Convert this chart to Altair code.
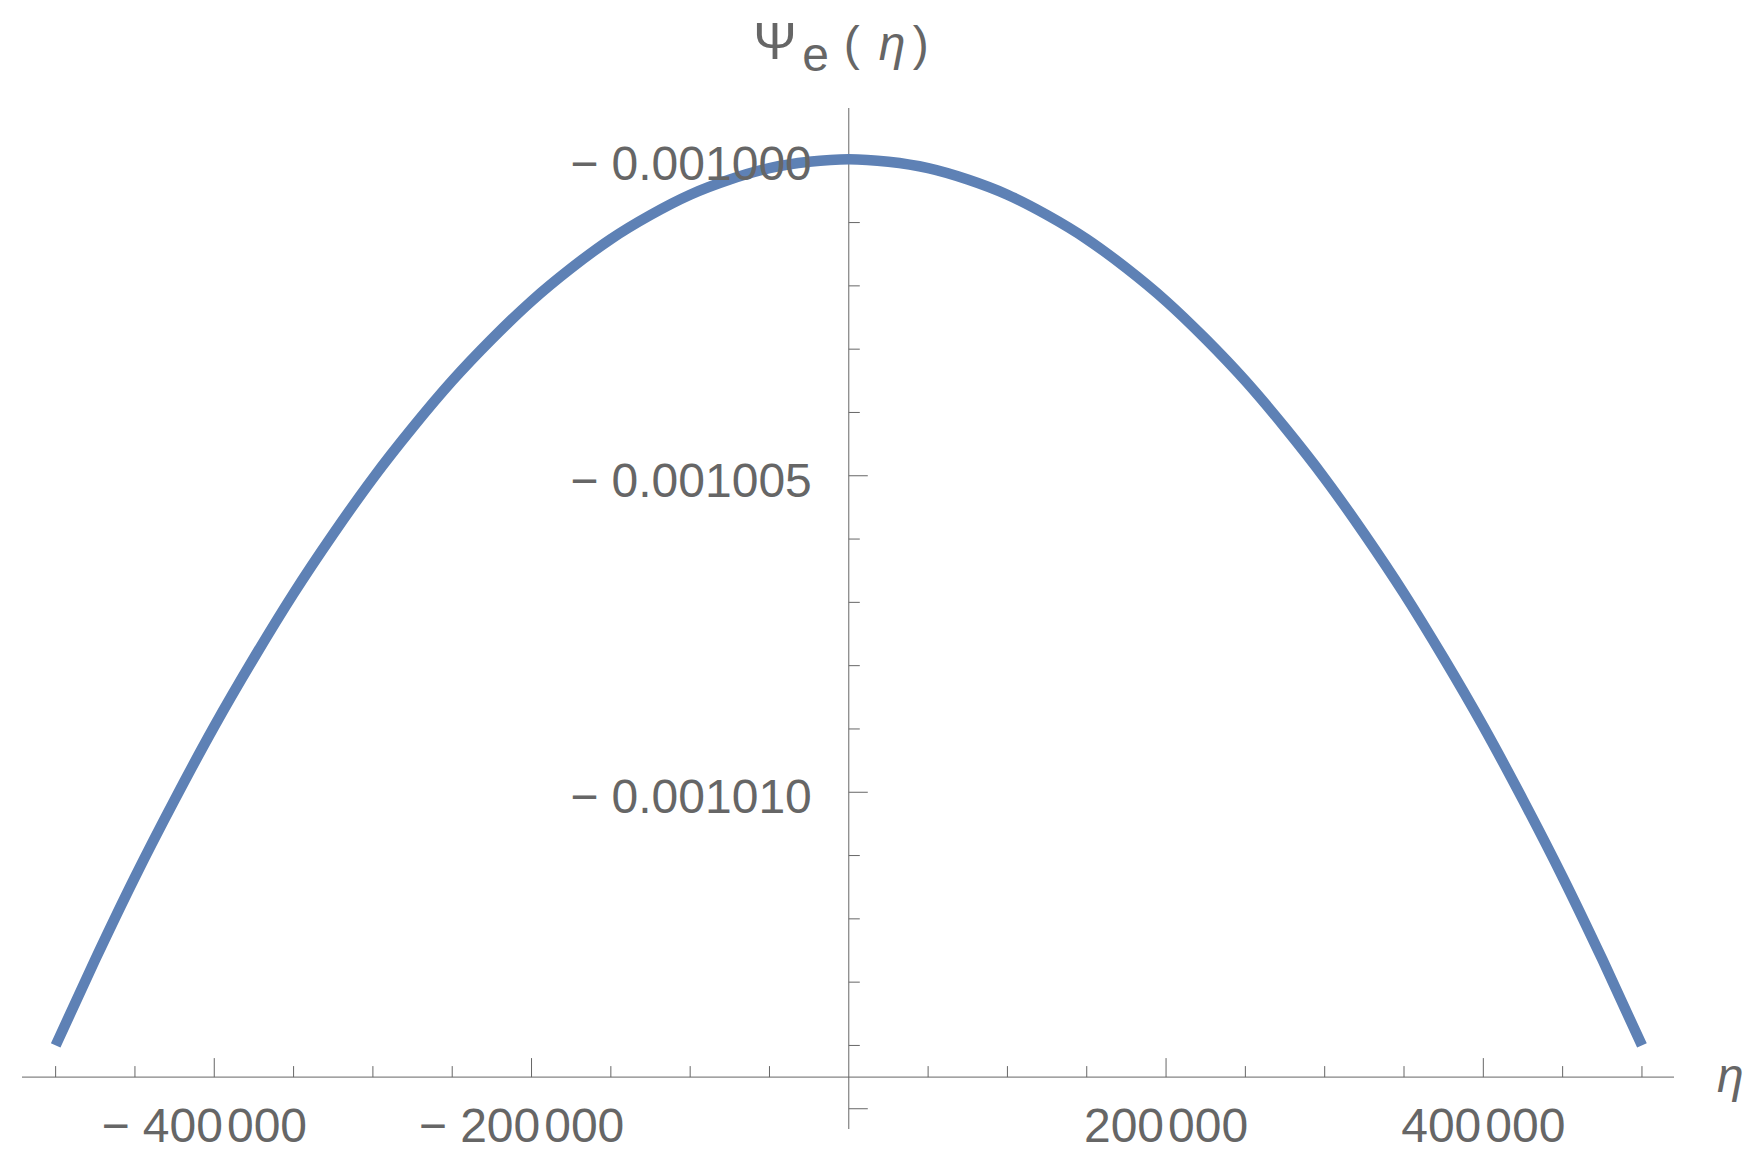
import altair as alt
import pandas as pd

# ---- data ----
eta = [-500000, -475000, -450000, -425000, -400000, -375000, -350000, -325000,
       -300000, -275000, -250000, -225000, -200000, -175000, -150000, -125000,
       -100000, -75000, -50000, -25000, 0, 25000, 50000, 75000, 100000, 125000,
       150000, 175000, 200000, 225000, 250000, 275000, 300000, 325000, 350000,
       375000, 400000, 425000, 450000, 475000, 500000]
psi = [-0.00101400, -0.00101264, -0.00101134, -0.00101012, -0.00100896,
       -0.00100788, -0.00100686, -0.00100592, -0.00100504, -0.00100424,
       -0.00100350, -0.00100284, -0.00100224, -0.00100172, -0.00100126,
       -0.00100088, -0.00100056, -0.00100032, -0.00100014, -0.00100004,
       -0.00100000,
       -0.00100004, -0.00100014, -0.00100032, -0.00100056, -0.00100088,
       -0.00100126, -0.00100172, -0.00100224, -0.00100284, -0.00100350,
       -0.00100424, -0.00100504, -0.00100592, -0.00100686, -0.00100788,
       -0.00100896, -0.00101012, -0.00101134, -0.00101264, -0.00101400]

x_major_ticks = [-400000, -200000, 200000, 400000]
x_major_labels = ["\u2212 400\u200a000", "\u2212 200\u200a000", "200\u200a000", "400\u200a000"]
x_minor_ticks = [-500000, -450000, -350000, -300000, -250000, -150000, -100000, -50000,
                 50000, 100000, 150000, 250000, 300000, 350000, 450000, 500000]
y_major_ticks = [-0.001000, -0.001005, -0.001010, -0.001015]
y_label_ticks = [-0.001000, -0.001005, -0.001010]
y_labels = ["\u2212 0.001000", "\u2212 0.001005", "\u2212 0.001010"]
y_minor_ticks = [-0.001001, -0.001002, -0.001003, -0.001004, -0.001006, -0.001007,
                 -0.001008, -0.001009, -0.001011, -0.001012, -0.001013, -0.001014]

X_DOM = [-521200, 520200]
Y_DOM = [-0.00101532, -0.00099919]
X_AXIS_Y = -0.0010145   # where the horizontal axis crosses
Y_AXIS_X = 0

GRAY = "#666666"
BLUE = "#5E81B5"
FONT = "Liberation Sans"
FS = 48

xs = alt.Scale(domain=X_DOM, nice=False, zero=False)
ys = alt.Scale(domain=Y_DOM, nice=False, zero=False)


def X(f):
    return alt.X(f"{f}:Q", scale=xs, axis=None)


def Y(f):
    return alt.Y(f"{f}:Q", scale=ys, axis=None)


curve = alt.Chart(pd.DataFrame({"eta": eta, "psi": psi})).mark_line(
    color=BLUE, strokeWidth=10.5, interpolate="monotone", strokeCap="butt"
).encode(x=X("eta"), y=Y("psi"))

# axis lines
xaxis = alt.Chart(pd.DataFrame({"x": [X_DOM[0]], "x2": [X_DOM[1]], "y": [X_AXIS_Y]})).mark_rule(
    color=GRAY, strokeWidth=1
).encode(x=X("x"), x2="x2:Q", y=Y("y"))
yaxis = alt.Chart(pd.DataFrame({"x": [Y_AXIS_X], "y": [Y_DOM[0]], "y2": [Y_DOM[1]]})).mark_rule(
    color=GRAY, strokeWidth=1
).encode(x=X("x"), y=Y("y"), y2="y2:Q")

# x ticks (pointing up)
xmaj_df = pd.DataFrame({"x": x_major_ticks, "y": [X_AXIS_Y] * len(x_major_ticks), "label": x_major_labels})
xmin_df = pd.DataFrame({"x": x_minor_ticks, "y": [X_AXIS_Y] * len(x_minor_ticks)})
xmaj = alt.Chart(xmaj_df).mark_rule(color=GRAY, strokeWidth=1, y2Offset=-19).encode(
    x=X("x"), y=Y("y"), y2="y:Q")
xmin = alt.Chart(xmin_df).mark_rule(color=GRAY, strokeWidth=1, y2Offset=-11).encode(
    x=X("x"), y=Y("y"), y2="y:Q")

# y ticks (pointing right)
ymaj_df = pd.DataFrame({"x": [Y_AXIS_X] * len(y_major_ticks), "y": y_major_ticks})
ymin_df = pd.DataFrame({"x": [Y_AXIS_X] * len(y_minor_ticks), "y": y_minor_ticks})
ymaj = alt.Chart(ymaj_df).mark_rule(color=GRAY, strokeWidth=1, x2Offset=19).encode(
    x=X("x"), x2="x:Q", y=Y("y"))
ymin = alt.Chart(ymin_df).mark_rule(color=GRAY, strokeWidth=1, x2Offset=11).encode(
    x=X("x"), x2="x:Q", y=Y("y"))

# tick labels
neg_df = xmaj_df[xmaj_df["x"] < 0]
pos_df = xmaj_df[xmaj_df["x"] > 0]
xlab_neg = alt.Chart(neg_df).mark_text(
    font=FONT, fontSize=FS, color=GRAY, align="center", baseline="alphabetic", dx=-10, dy=65
).encode(x=X("x"), y=Y("y"), text="label:N")
xlab_pos = alt.Chart(pos_df).mark_text(
    font=FONT, fontSize=FS, color=GRAY, align="center", baseline="alphabetic", dy=65
).encode(x=X("x"), y=Y("y"), text="label:N")

ylab_df = pd.DataFrame({"x": [Y_AXIS_X] * len(y_label_ticks), "y": y_label_ticks, "label": y_labels})
ylab = alt.Chart(ylab_df).mark_text(
    font=FONT, fontSize=FS, color=GRAY, align="right", baseline="alphabetic", dx=-37, dy=21
).encode(x=X("x"), y=Y("y"), text="label:N")

# axis titles
top_df = pd.DataFrame({"x": [Y_AXIS_X], "y": [Y_DOM[1]]})


def title_piece(txt, dx, dy, align="left", style="normal", size=FS):
    return alt.Chart(top_df).mark_text(
        font=FONT, fontSize=size, color=GRAY, align=align, baseline="alphabetic",
        dx=dx, dy=dy, fontStyle=style, text=txt
    ).encode(x=X("x"), y=Y("y"))


t_psi = title_piece("\u03a8", -52, -49.3, align="right", size=52)
t_e = title_piece("e", -46.5, -36.6)
t_lp = title_piece("(", -5, -48.5)
t_eta = title_piece("\u03b7", 30, -48.5, style="italic")
t_rp = title_piece(")", 64, -48.5)

eta_df = pd.DataFrame({"x": [X_DOM[1]], "y": [X_AXIS_Y]})
t_xeta = alt.Chart(eta_df).mark_text(
    font=FONT, fontSize=FS, color=GRAY, align="left", baseline="alphabetic",
    dx=43, dy=14.7, fontStyle="italic", text="\u03b7"
).encode(x=X("x"), y=Y("y"))

chart = alt.layer(
    xaxis, yaxis, xmaj, xmin, ymaj, ymin, curve,
    xlab_neg, xlab_pos, ylab, t_psi, t_e, t_lp, t_eta, t_rp, t_xeta
).properties(
    width=1652, height=1021,
    autosize=alt.AutoSizeParams(type="none"),
    padding={"left": 14, "top": 100, "right": 80, "bottom": 25},
    background="white",
).configure_view(strokeWidth=0)

chart.save("out.html", embed_options={"renderer": "svg", "actions": False})
